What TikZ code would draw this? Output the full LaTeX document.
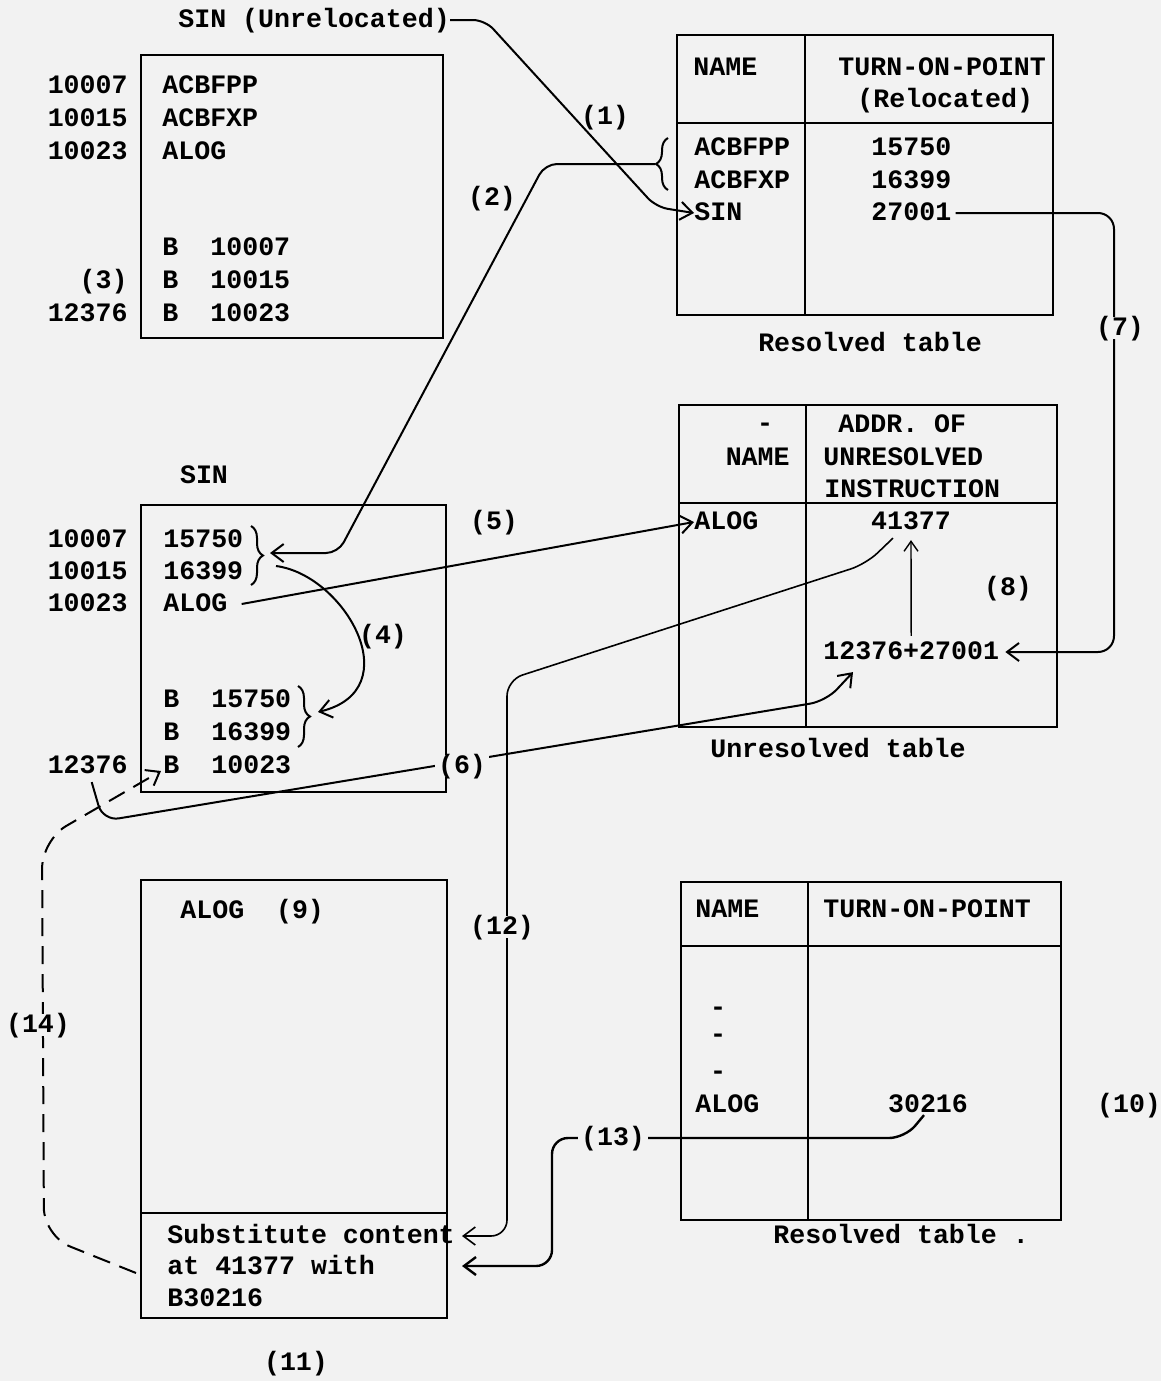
\documentclass[tikz,border=0pt]{standalone}
\usepackage{fontspec}
\setmonofont{Liberation Mono}
\usetikzlibrary{arrows.meta,calc,decorations.pathreplacing}
\definecolor{paper}{gray}{0.95}
\tikzset{
  txt/.style={font=\ttfamily\bfseries\fontsize{13.3}{15.8}\selectfont, inner sep=0pt, text height=7.7pt, text depth=0pt},
  cell/.style={txt, anchor=west},
  addr/.style={txt, anchor=east},
  tag/.style={txt, fill=paper, inner sep=1.5pt},
  frame/.style={line width=1.3pt},
  arr/.style={-{Straight Barb[length=6pt,width=9pt]}, line width=1pt},
  thinarr/.style={-{Straight Barb[length=5pt,width=7pt]}, line width=0.7pt},
  darr/.style={arr, dash pattern=on 9pt off 5pt},
  brc/.style={decorate, decoration={brace, amplitude=6pt}, line width=1pt},
}
\begin{document}
\begin{tikzpicture}[x=0.5pt,y=-0.5pt]
\fill[paper] (0,0) rectangle (1161,1381);
\useasboundingbox (0,0) rectangle (1161,1381);

% unrelocated SIN
\node[cell] (sinU) at (178,20) {SIN (Unrelocated)};
\draw[frame] (141,55) rectangle (443,338);
\foreach \n/\a/\y in {a/10007/86, b/10015/119, c/10023/152, d/{(3)}/281, e/12376/314}
  \node[addr] (ua\n) at (128,\y) {\a};
\foreach \n/\t/\y in {a/ACBFPP/86, b/ACBFXP/119, c/ALOG/152}
  \node[cell] (uc\n) at (162,\y) {\t};
\foreach \n/\v/\y in {d/10007/248, e/10015/281, f/10023/314} {
  \node[cell] (ub\n) at (162,\y) {B};
  \node[cell] (uv\n) at (210,\y) {\v};
}

% resolved table (top)
\draw[frame] (677,35) rectangle (1053,315);
\draw[frame] (805,35) -- (805,315) (677,123) -- (1053,123);
\node[cell] (rhName) at (693,68) {NAME};
\node[cell] (rhTurn) at (838,68) {TURN-ON-POINT};
\node[cell] (rhRel) at (857,100) {(Relocated)};
\foreach \n/\t/\v/\y in {a/ACBFPP/15750/148, b/ACBFXP/16399/181, c/SIN/27001/213} {
  \node[cell] (rn\n) at (694,\y) {\t};
  \node[cell] (rv\n) at (871,\y) {\v};
}
\node[txt] (rcap) at (870,344) {Resolved table};
\draw[brc] (668,190) -- (668,138);
\coordinate (brA) at (655,164);

% relocated SIN
\node[txt] (sinT) at (204,476) {SIN};
\draw[frame] (141,505) rectangle (446,792);
\foreach \n/\a/\y in {a/10007/540, b/10015/572, c/10023/604, e/12376/766}
  \node[addr] (sa\n) at (128,\y) {\a};
\foreach \n/\t/\y in {a/15750/540, b/16399/572, c/ALOG/604}
  \node[cell] (sc\n) at (163,\y) {\t};
\foreach \n/\v/\y in {d/15750/700, e/16399/733, f/10023/766} {
  \node[cell] (sb\n) at (163,\y) {B};
  \node[cell] (sv\n) at (211,\y) {\v};
}
\draw[brc] (251,526) -- (251,585);
\draw[brc] (298,686) -- (298,747);
\coordinate (brB) at (270,553);
\coordinate (c4a) at (276,566);
\coordinate (brC) at (318,712);

% unresolved table
\draw[frame] (679,405) rectangle (1057,727);
\draw[frame] (806,405) -- (806,727) (679,503) -- (1057,503);
\node[txt] (udash) at (765,424) {-};
\node[addr] (uhName) at (790,458) {NAME};
\node[cell] (uhA) at (838,425) {ADDR. OF};
\node[cell] (uhB) at (823,458) {UNRESOLVED};
\node[cell] (uhC) at (824,490) {INSTRUCTION};
\node[cell] (unA) at (694,522) {ALOG};
\node[txt] (uvA) at (911,522) {41377};
\node[cell] (usum) at (823,652) {12376+27001};
\node[txt] (ucap) at (838,750) {Unresolved table};

% ALOG
\draw[frame] (141,880) rectangle (447,1318);
\draw[frame] (141,1213) -- (447,1213);
\node[cell] (aName) at (180,911) {ALOG};
\node[cell] (sub1) at (167,1236) {Substitute content};
\node[cell] (sub2) at (167,1267) {at 41377 with};
\node[cell] (sub3) at (167,1299) {B30216};
\coordinate (t12) at (462,1236);
\coordinate (t13) at (462,1266);
\coordinate (s14) at (136,1273);
\coordinate (t14) at (161,771);

% resolved table (bottom)
\draw[frame] (681,882) rectangle (1061,1220);
\draw[frame] (808,882) -- (808,1220) (681,946) -- (1061,946);
\node[cell] (qhName) at (695,910) {NAME};
\node[cell] (qhTurn) at (823,910) {TURN-ON-POINT};
\foreach \y [count=\i] in {1008,1035,1072}
  \node[txt] (qd\i) at (718,\y) {-};
\node[cell] (qnA) at (695,1105) {ALOG};
\node[txt] (qvA) at (928,1105) {30216};
\node[cell] (qcap) at (773,1236) {Resolved table .};

% connectors
\draw[arr, rounded corners=6pt] (sinU.east) -- (485,20) -- (656,207) -- (rnc.west);
\draw[arr, rounded corners=6pt] (brA) -- (545,164) -- (338,553) -- (brB);
\draw[arr] (c4a) .. controls (345,575) and (410,690) .. (brC);
\draw[arr] ([xshift=7pt]scc.east) -- (unA.west);
\draw[arr, rounded corners=8pt] ([xshift=2pt,yshift=-4pt]sae.south) -- (103,821) -- (826,701) -- ([xshift=15pt,yshift=-6pt]usum.south west);
\draw[arr, rounded corners=8pt] ([xshift=2pt]rvc.east) -- (1114,213) -- (1114,652) -- ([xshift=3pt]usum.east);
\draw[thinarr] ([yshift=4pt]usum.north) -- ([yshift=-5pt]uvA.south);
\draw[arr, line width=0.8pt, rounded corners=8pt] ([xshift=-9pt,yshift=-4pt]uvA.south) -- (866,564) -- (507,680) |- (t12);
\draw[arr, line width=1.2pt, rounded corners=8pt] ([xshift=-2pt,yshift=-1pt]qvA.south) -- (905,1138) -- (552,1138) |- (t13);
\draw[darr, rounded corners=14pt] (s14) -- (44,1236) -- (42,840) -- (t14);

% step numbers
\node[txt] (n1) at (605,117) {(1)};
\node[txt] (n2) at (492,198) {(2)};
\node[txt] (n4) at (383,636) {(4)};
\node[txt] (n5) at (494,522) {(5)};
\node[tag] (n6) at (462,766) {(6)};
\node[tag] (n7) at (1120,328) {(7)};
\node[txt] (n8) at (1008,588) {(8)};
\node[txt] (n9) at (300,911) {(9)};
\node[txt] (n10) at (1129,1105) {(10)};
\node[txt] (n11) at (296,1363) {(11)};
\node[tag] (n12) at (502,927) {(12)};
\node[tag] (n13) at (613,1138) {(13)};
\node[tag] (n14) at (38,1025) {(14)};
\end{tikzpicture}
\end{document}
